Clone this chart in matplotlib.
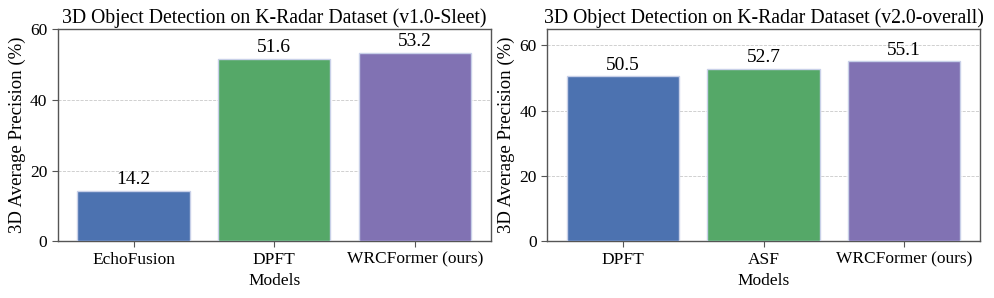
import matplotlib
matplotlib.use("Agg")
import matplotlib.pyplot as plt

plt.rcParams['font.family'] = ['Liberation Serif', 'DejaVu Serif']

left_models = ["EchoFusion", "DPFT", "WRCFormer (ours)"]
left_values = [14.2, 51.6, 53.2]
right_models = ["DPFT", "ASF", "WRCFormer (ours)"]
right_values = [50.5, 52.7, 55.1]
left_title = "3D Object Detection on K-Radar Dataset (v1.0-Sleet)"
right_title = "3D Object Detection on K-Radar Dataset (v2.0-overall)"
colors = ["#4c72b0", "#55a868", "#8172b3"]

fig, axes = plt.subplots(1, 2, figsize=(9.94, 2.98), dpi=100)

def draw(ax, models, values, title, ylim):
    bars = ax.bar(models, values, color=colors, width=0.8,
                  edgecolor="#c8d0e8", linewidth=1.0, zorder=3)
    for b, v in zip(bars, values):
        ax.text(b.get_x() + b.get_width() / 2, v + 0.8, f"{v:.1f}",
                ha="center", va="bottom", fontsize=14)
    ax.set_title(title, fontsize=14.2, pad=4)
    ax.set_ylabel("3D Average Precision (%)", fontsize=13.5, labelpad=3)
    ax.set_xlabel("Models", fontsize=12.5)
    ax.set_ylim(*ylim)
    ax.set_yticks([0, 20, 40, 60])
    ax.tick_params(axis="both", labelsize=12.5, length=4, color="#555555")
    ax.yaxis.grid(True, linestyle="--", color="#bbbbbb", linewidth=0.6, alpha=0.8, zorder=0)
    ax.set_axisbelow(True)
    for s in ax.spines.values():
        s.set_color("#555555")
        s.set_linewidth(1.0)

draw(axes[0], left_models, left_values, left_title, (0, 60))
draw(axes[1], right_models, right_values, right_title, (0, 65))

fig.subplots_adjust(left=0.058, right=0.986, top=0.903, bottom=0.19, wspace=0.13)
fig.savefig("out.png", dpi=100)
